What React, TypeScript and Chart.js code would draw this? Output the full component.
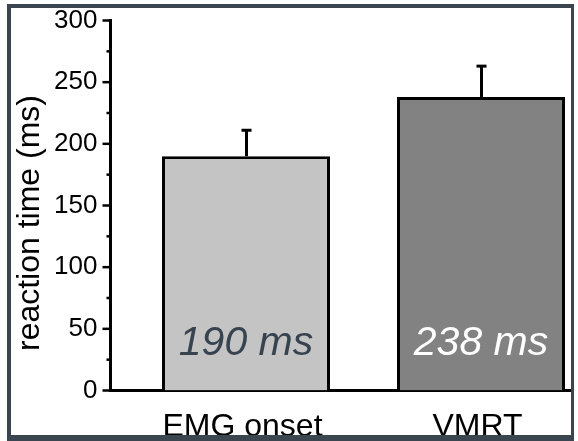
import React, { useEffect, useRef } from 'react';
import { Chart, registerables } from 'chart.js';

Chart.register(...registerables);

// ---- data ----
const categories = ['EMG onset', 'VMRT'];
const meanRT = [190, 238];
const errorRT = [21, 25];
const valueLabels = ['190 ms', '238 ms'];
const barColors = ['#c4c4c4', '#828282'];
const valueLabelColors = ['#37434f', '#ffffff'];
const yTitle = 'reaction time (ms)';
const yMin = 0;
const yMax = 300;
const yMajorStep = 50;
const yMinorStep = 25;

const FONT = '"Liberation Sans", Arial, Helvetica, sans-serif';
const FRAME = '#3b4550';

export default function App() {
  const ref = useRef<HTMLCanvasElement>(null);

  useEffect(() => {
    const canvas = ref.current;
    if (!canvas) return;

    const customPlugin = {
      id: 'customDecor',
      beforeDraw(chart: any) {
        const ctx = chart.ctx;
        ctx.save();
        ctx.fillStyle = '#ffffff';
        ctx.fillRect(0, 0, chart.width, chart.height);
        ctx.restore();
      },
      afterDatasetsDraw(chart: any) {
        const ctx = chart.ctx;
        const yScale = chart.scales.y;
        const meta = chart.getDatasetMeta(0);
        ctx.save();
        meta.data.forEach((bar: any, i: number) => {
          const x = Math.round(bar.x) + 0.5;
          const yTop = yScale.getPixelForValue(meanRT[i] + errorRT[i]);
          ctx.strokeStyle = '#000';
          ctx.lineWidth = 3;
          ctx.beginPath();
          ctx.moveTo(x, bar.y);
          ctx.lineTo(x, yTop);
          ctx.stroke();
          ctx.beginPath();
          ctx.moveTo(x - 5, yTop);
          ctx.lineTo(x + 5, yTop);
          ctx.stroke();
          ctx.fillStyle = valueLabelColors[i];
          ctx.font = `italic 41px ${FONT}`;
          ctx.textAlign = 'center';
          ctx.textBaseline = 'alphabetic';
          ctx.fillText(valueLabels[i], bar.x, yScale.getPixelForValue(0) - 36);
        });
        ctx.restore();
      },
      afterDraw(chart: any) {
        const ctx = chart.ctx;
        const yScale = chart.scales.y;
        const left = chart.chartArea.left;
        ctx.save();
        ctx.strokeStyle = '#000';
        ctx.lineWidth = 2.5;
        for (let v = yMin; v <= yMax; v += yMinorStep) {
          const y = yScale.getPixelForValue(v);
          const len = v % yMajorStep === 0 ? 8 : 4;
          ctx.beginPath();
          ctx.moveTo(left - len, y);
          ctx.lineTo(left, y);
          ctx.stroke();
        }
        ctx.fillStyle = '#000';
        ctx.font = `32px ${FONT}`;
        ctx.textAlign = 'center';
        ctx.textBaseline = 'alphabetic';
        ctx.translate(38.5, 223);
        ctx.rotate(-Math.PI / 2);
        ctx.fillText(yTitle, 0, 0);
        ctx.setTransform(1, 0, 0, 1, 0, 0);
        ctx.fillStyle = FRAME;
        ctx.fillRect(7, 4, 4, 437);
        ctx.fillRect(7, 4, 567, 4);
        ctx.fillRect(571, 4, 3, 437);
        ctx.fillRect(7, 435, 567, 6);
        ctx.restore();
      },
    };

    const chart = new Chart(canvas, {
      type: 'bar',
      data: {
        datasets: [
          {
            data: categories.map((_, i) => ({ x: i + 1, y: meanRT[i] })) as any,
            backgroundColor: barColors,
            borderColor: '#000000',
            borderWidth: 3,
            barPercentage: 0.715,
            categoryPercentage: 1,
          },
        ],
      },
      options: {
        responsive: false,
        animation: false,
        devicePixelRatio: 1,
        layout: { padding: { left: 0, right: 7, top: 20.5, bottom: 0 } },
        plugins: {
          legend: { display: false },
          tooltip: { enabled: false },
        },
        scales: {
          x: {
            type: 'linear',
            offset: false,
            min: 0.4234,
            max: 2.383,
            grid: { display: false, drawTicks: false },
            border: { display: true, color: '#000', width: 3 },
            afterBuildTicks: (scale: any) => {
              scale.ticks = categories.map((_, i) => ({ value: i + 1 }));
            },
            afterFit: (scale: any) => {
              scale.height = 50.5;
              scale.paddingLeft = 0;
              scale.paddingRight = 0;
            },
            ticks: {
              autoSkip: false,
              maxRotation: 0,
              minRotation: 0,
              padding: 17,
              labelOffset: -3.5,
              color: '#000',
              font: { family: FONT, size: 32 },
              callback: (v: any) => categories[Math.round(Number(v)) - 1] ?? '',
            },
          },
          y: {
            min: yMin,
            max: yMax,
            grid: { display: false, drawTicks: false },
            border: { display: true, color: '#000', width: 3 },
            afterFit: (scale: any) => {
              scale.width = 110.5;
              scale.paddingTop = 0;
              scale.paddingBottom = 0;
            },
            ticks: {
              stepSize: yMajorStep,
              padding: 13,
              color: '#000',
              font: { family: FONT, size: 26 },
            },
          },
        },
      } as any,
      plugins: [customPlugin],
    });

    return () => chart.destroy();
  }, []);

  return (
    <div style={{ position: 'absolute', left: 0, top: 0, width: 578, height: 441 }}>
      <canvas ref={ref} width={578} height={441} style={{ width: 578, height: 441, display: 'block' }} />
    </div>
  );
}
